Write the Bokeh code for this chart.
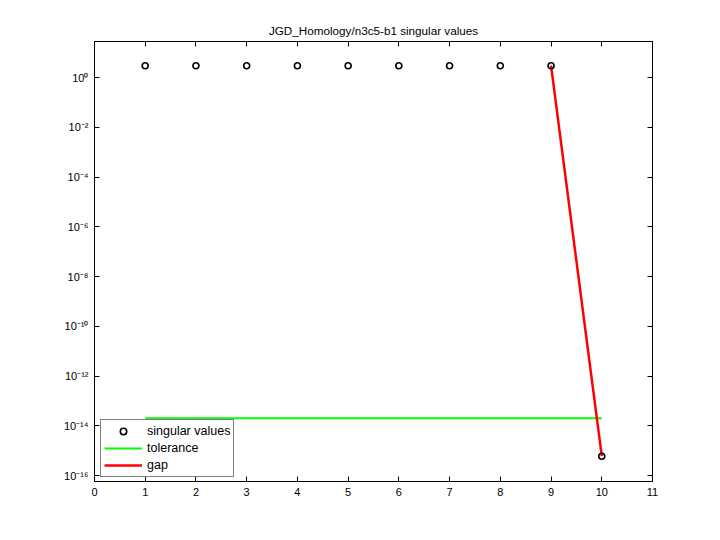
from bokeh.plotting import figure
from bokeh.models import (FixedTicker, CustomJSTickFormatter, LinearAxis, LogAxis,
                          Legend, LegendItem, Range1d)
from bokeh.embed import file_html
from bokeh.resources import INLINE

# ---- data ----
index = [1, 2, 3, 4, 5, 6, 7, 8, 9, 10]
singular_values = [3.0, 3.0, 3.0, 3.0, 3.0, 3.0, 3.0, 3.0, 3.0, 6.0e-16]
tolerance_x = [1, 10]
tolerance_y = [2.0e-14, 2.0e-14]
gap_x = [9, 10]
gap_y = [3.0, 6.0e-16]
xticks = [0, 1, 2, 3, 4, 5, 6, 7, 8, 9, 10, 11]
ytick_exponents = [0, -2, -4, -6, -8, -10, -12, -14, -16]
title_text = "JGD_Homology/n3c5-b1 singular values"

FONT = "Liberation Sans"

p = figure(width=712, height=532, output_backend="svg", toolbar_location=None,
           y_axis_type="log", x_range=Range1d(0, 11), y_range=Range1d(10**-16.24, 10**1.45),
           frame_width=558, frame_height=440,
           min_border_left=94, min_border_right=60, min_border_top=41, min_border_bottom=51,
           title=title_text)
p.title.align = "center"
p.title.text_font = FONT
p.title.text_font_style = "normal"
p.title.text_font_size = "11.7px"
p.title.text_color = "black"
p.title.standoff = 9

p.grid.visible = False
p.outline_line_color = "black"
p.outline_line_width = 1
p.background_fill_color = "white"
p.border_fill_color = "white"

yticks = [10.0 ** e for e in ytick_exponents]
fmt = CustomJSTickFormatter(code="""
const e = Math.round(Math.log10(tick));
const sup = {"-":"\u207b","0":"\u2070","1":"\u00b9","2":"\u00b2","3":"\u00b3","4":"\u2074",
             "5":"\u2075","6":"\u2076","7":"\u2077","8":"\u2078","9":"\u2079"};
return "10" + String(e).split("").map(c => sup[c]).join("");
""")

for ax in p.xaxis:
    ax.ticker = FixedTicker(ticks=xticks)
for ax in p.yaxis:
    ax.ticker = FixedTicker(ticks=yticks)
    ax.formatter = fmt

def style(ax):
    ax.major_tick_in = 5
    ax.major_tick_out = 0
    ax.minor_tick_line_color = None
    ax.axis_line_color = "black"
    ax.major_tick_line_color = "black"
    ax.major_label_text_font = FONT
    ax.major_label_text_font_size = "11px"
    ax.major_label_text_color = "black"
    ax.major_label_standoff = 6

for ax in p.xaxis + p.yaxis:
    style(ax)

top = LinearAxis(ticker=FixedTicker(ticks=xticks))
style(top)
top.major_label_text_font_size = "1px"
top.major_label_text_color = None
top.major_label_standoff = 0
p.add_layout(top, "above")

right = LogAxis(ticker=FixedTicker(ticks=yticks))
style(right)
right.major_label_text_font_size = "1px"
right.major_label_text_color = None
right.major_label_standoff = 0
p.add_layout(right, "right")

r_tol = p.line(tolerance_x, tolerance_y, line_color="#00ff00", line_width=2)
r_gap = p.line(gap_x, gap_y, line_color="#ff0000", line_width=2.5)
r_sv = p.scatter(index, singular_values, marker="circle", size=6, fill_color=None,
                 line_color="black", line_width=1.6)

legend = Legend(items=[LegendItem(label="singular values", renderers=[r_sv]),
                       LegendItem(label="tolerance", renderers=[r_tol]),
                       LegendItem(label="gap", renderers=[r_gap])],
                location=(6, 4))
legend.border_line_color = "black"
legend.border_line_width = 1
legend.background_fill_alpha = 1
legend.label_text_font = FONT
legend.label_text_font_size = "12.5px"
legend.label_text_color = "black"
legend.glyph_width = 38
legend.glyph_height = 16
legend.label_height = 16
legend.spacing = 1
legend.padding = 3
legend.margin = 0
legend.label_standoff = 5
p.add_layout(legend, "center")

open("out.html", "w").write(file_html(p, INLINE))
